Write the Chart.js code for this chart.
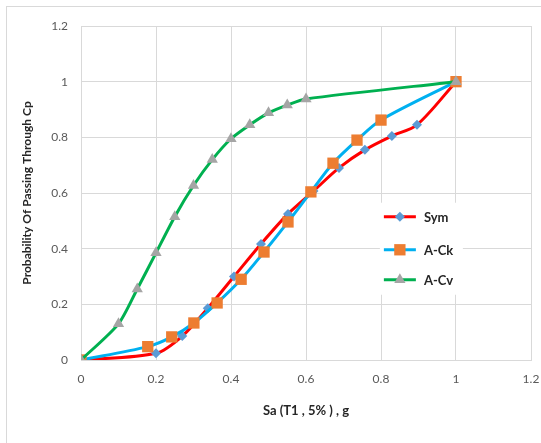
<!DOCTYPE html>
<html>
<head>
<meta charset="utf-8">
<script src="https://cdn.jsdelivr.net/npm/chart.js@4.4.0/dist/chart.umd.min.js"></script>
<style>
  html, body { margin: 0; padding: 0; background: #fff; }
  #wrap { position: relative; width: 541px; height: 443px; overflow: hidden; }
  #frame { position: absolute; left: 6px; top: 6px; width: 600px; height: 500px;
           border-top: 1px solid #d9d9d9; border-left: 1px solid #d9d9d9; }
  canvas { position: absolute; left: 0; top: 0; }
</style>
</head>
<body>
<div id="wrap">
  <div id="frame"></div>
  <canvas id="grafica" width="541" height="443"></canvas>
</div>
<script>
// Datos
const symX = [0, 0.2, 0.27, 0.338, 0.408, 0.48, 0.552, 0.62, 0.688, 0.757, 0.829, 0.896, 1];
const symY = [0, 0.024, 0.086, 0.186, 0.3, 0.417, 0.525, 0.607, 0.69, 0.755, 0.805, 0.845, 1];

const ckX = [0, 0.178, 0.242, 0.301, 0.363, 0.427, 0.488, 0.552, 0.613, 0.672, 0.736, 0.8, 1];
const ckY = [0, 0.048, 0.083, 0.133, 0.205, 0.29, 0.388, 0.496, 0.604, 0.707, 0.79, 0.862, 1];

const cvX = [0, 0.1, 0.15, 0.2, 0.25, 0.3, 0.35, 0.4, 0.45, 0.5, 0.55, 0.6, 1];
const cvY = [0, 0.13, 0.255, 0.385, 0.515, 0.627, 0.72, 0.795, 0.845, 0.888, 0.916, 0.938, 1];

const serieNombres = ['Sym', 'A-Ck', 'A-Cv'];
const tituloX = 'Sa (T1 , 5% ) , g';
const tituloY = 'Probability Of Passing Through Cp';

const FUENTE = "Lato, 'Open Sans', sans-serif";

function puntos(xs, ys) {
    return xs.map((x, i) => ({ x: x, y: ys[i] }));
}

function etiqueta(v) {
    return String(Math.round(v * 10) / 10);
}

// Leyenda dibujada dentro del area del grafico, como en Excel
const leyendaInterna = {
    id: 'leyendaInterna',
    afterDraw(chart) {
        const ctx = chart.ctx;
        const xs = chart.scales.x, ys = chart.scales.y;
        const left = xs.getPixelForValue(0.797);
        const top = ys.getPixelForValue(0.565);
        const rowY = [ys.getPixelForValue(0.515), ys.getPixelForValue(0.396), ys.getPixelForValue(0.288)];
        ctx.save();
        ctx.fillStyle = '#ffffff';
        ctx.fillRect(left, top, 83, 92);
        chart.data.datasets.forEach((ds, i) => {
            const y = rowY[i];
            ctx.strokeStyle = ds.borderColor;
            ctx.lineWidth = 3;
            ctx.beginPath();
            ctx.moveTo(left + 4, y);
            ctx.lineTo(left + 36, y);
            ctx.stroke();
            ctx.fillStyle = ds.pointBackgroundColor;
            ctx.strokeStyle = ds.pointBorderColor;
            ctx.lineWidth = 1;
            Chart.helpers.drawPoint(ctx, {
                pointStyle: ds.pointStyle,
                radius: ds.pointRadius,
                rotation: 0,
                borderWidth: 0
            }, left + 20, y);
            ctx.fillStyle = '#262626';
            ctx.font = 'bold 13px ' + FUENTE;
            ctx.textAlign = 'left';
            ctx.textBaseline = 'middle';
            ctx.fillText(ds.label, left + 44, y + 1);
        });
        ctx.restore();
    }
};

const ctx = document.getElementById('grafica').getContext('2d');
const chartInstance = new Chart(ctx, {
    type: 'line',
    data: {
        datasets: [
            {
                label: serieNombres[0],
                data: puntos(symX, symY),
                borderColor: '#ff0000',
                borderWidth: 3,
                pointStyle: 'rectRot',
                pointRadius: 5,
                pointBackgroundColor: '#5b9bd5',
                pointBorderColor: '#5b9bd5',
                pointBorderWidth: 0,
                tension: 0.3,
                order: 3
            },
            {
                label: serieNombres[1],
                data: puntos(ckX, ckY),
                borderColor: '#00b0f0',
                borderWidth: 3,
                pointStyle: 'rect',
                pointRadius: 8,
                pointBackgroundColor: '#ed7d31',
                pointBorderColor: '#ed7d31',
                pointBorderWidth: 0,
                tension: 0.3,
                order: 2
            },
            {
                label: serieNombres[2],
                data: puntos(cvX, cvY),
                borderColor: '#00b050',
                borderWidth: 3,
                pointStyle: 'triangle',
                pointRadius: 6.5,
                pointBackgroundColor: '#a5a5a5',
                pointBorderColor: '#a5a5a5',
                pointBorderWidth: 0,
                tension: 0.25,
                order: 1
            }
        ]
    },
    options: {
        responsive: false,
        animation: false,
        layout: { padding: { top: 26, right: 10, bottom: 0, left: 0 } },
        plugins: {
            legend: { display: false },
            tooltip: { enabled: false }
        },
        scales: {
            x: {
                type: 'linear',
                min: 0,
                max: 1.2,
                afterFit: (s) => { s.height = 83; s.paddingLeft = 0; s.paddingRight = 0; },
                ticks: { stepSize: 0.2, color: '#595959', font: { family: FUENTE, size: 12 }, padding: 12, callback: etiqueta },
                grid: { color: '#d9d9d9', drawTicks: false },
                border: { color: '#d9d9d9' },
                title: {
                    display: true,
                    text: tituloX,
                    color: '#262626',
                    font: { family: FUENTE, size: 13, weight: 'bold' },
                    padding: { top: 0, bottom: 24 }
                }
            },
            y: {
                type: 'linear',
                min: 0,
                max: 1.2,
                afterFit: (s) => { s.width = 81; s.paddingTop = 0; s.paddingBottom = 0; },
                ticks: { stepSize: 0.2, color: '#595959', font: { family: FUENTE, size: 12 }, padding: 13, callback: etiqueta },
                grid: { color: '#d9d9d9', drawTicks: false },
                border: { color: '#d9d9d9' },
                title: {
                    display: true,
                    text: tituloY,
                    color: '#262626',
                    font: { family: FUENTE, size: 12, weight: 'bold' },
                    padding: { top: 20, bottom: 0 }
                }
            }
        }
    },
    plugins: [leyendaInterna]
});
</script>
</body>
</html>
